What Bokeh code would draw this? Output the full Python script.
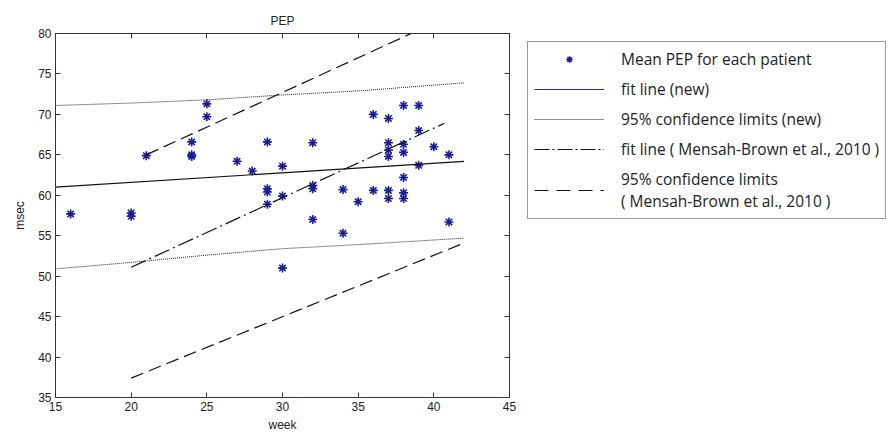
from bokeh.plotting import figure
from bokeh.models import Legend, LegendItem, LinearAxis, Range1d, FixedTicker
from bokeh.layouts import row
from bokeh.embed import file_html
from bokeh.resources import INLINE

# Mean PEP per patient
weeks = [16, 20, 20, 21, 24, 24, 24, 25, 25, 27, 28, 29, 29, 29, 29, 30, 30, 30,
         32, 32, 32, 32, 34, 34, 35, 36, 36, 37, 37, 37, 37, 37, 37,
         38, 38, 38, 38, 38, 38, 39, 39, 39, 40, 41, 41]
pep = [57.7, 57.4, 57.8, 64.9, 66.6, 65.0, 64.8, 71.3, 69.7, 64.2, 63.0, 66.6, 60.8, 60.4, 58.9, 63.6, 59.9, 51.0,
       66.5, 61.2, 60.8, 57.0, 60.7, 55.3, 59.2, 70.0, 60.6, 69.5, 66.5, 65.6, 64.8, 60.6, 59.6,
       71.1, 66.3, 65.3, 62.2, 60.3, 59.6, 71.1, 68.0, 63.7, 66.0, 65.0, 56.7]

# fit line (new)
fit_new_weeks = [15, 42]
fit_new = [61.0, 64.2]
# 95% confidence limits (new)
ci_new_weeks = [15, 20, 25, 30, 35, 42]
ci_new_upper = [71.1, 71.4, 71.8, 72.4, 72.9, 73.9]
ci_new_lower = [50.9, 51.7, 52.6, 53.4, 53.9, 54.7]
# fit line (Mensah-Brown et al., 2010)
mb_fit_weeks = [20, 40.7]
mb_fit = [51.1, 68.9]
# 95% confidence limits (Mensah-Brown et al., 2010)
mb_upper_weeks = [21, 38.5]
mb_upper = [65.0, 80.0]
mb_lower_weeks = [20, 42]
mb_lower = [37.4, 54.1]

x_ticks = [15, 20, 25, 30, 35, 40, 45]
y_ticks = [35, 40, 45, 50, 55, 60, 65, 70, 75, 80]

legend_labels = [
    "Mean PEP for each patient",
    "fit line (new)",
    "95% confidence limits (new)",
    "fit line ( Mensah-Brown et al., 2010 )",
    "95% confidence limits\n( Mensah-Brown et al., 2010 )",
]

MARK_COLOR = "#1c1c96"
DOT = "1 1"
DASHDOT = "16 4 2 4"
DASH = "13 6"

p = figure(frame_width=454, frame_height=364, output_backend="svg", toolbar_location=None,
           x_range=Range1d(15, 45), y_range=Range1d(35, 80),
           min_border_left=55, min_border_top=33, min_border_bottom=39,
           min_border_right=10, title="PEP")
p.title.align = "center"
p.title.text_font = "Liberation Sans"
p.title.text_font_size = "12px"
p.title.text_font_style = "normal"
p.title.text_color = "#222222"
p.title.offset = 0
p.title.standoff = 12
p.grid.visible = False
p.outline_line_color = "#333333"
p.outline_line_width = 1

for ax in (p.xaxis[0], p.yaxis[0]):
    ax.major_tick_in = 5
    ax.major_tick_out = 0
    ax.minor_tick_line_color = None
    ax.major_label_text_font = "Liberation Sans"
    ax.major_label_text_font_size = "12px"
    ax.major_label_text_color = "#222222"
    ax.axis_label_text_font = "Liberation Sans"
    ax.axis_label_text_font_size = "12px"
    ax.axis_label_text_font_style = "normal"
    ax.axis_label_text_color = "#222222"
    ax.axis_line_color = "#333333"
    ax.major_tick_line_color = "#333333"
p.xaxis[0].ticker = FixedTicker(ticks=x_ticks)
p.yaxis[0].ticker = FixedTicker(ticks=y_ticks)
p.xaxis[0].axis_label = "week"
p.yaxis[0].axis_label = "msec"
p.xaxis[0].axis_label_standoff = 4
p.yaxis[0].axis_label_standoff = 8
p.xaxis[0].major_label_standoff = 4
p.yaxis[0].major_label_standoff = 4

for loc, ticks in (("right", y_ticks), ("above", x_ticks)):
    ax = LinearAxis(ticker=FixedTicker(ticks=ticks),
                    major_label_overrides={t: "" for t in ticks},
                    major_tick_in=5, major_tick_out=0, minor_tick_line_color=None,
                    axis_line_color=None, major_tick_line_color="#333333",
                    major_label_standoff=0)
    p.add_layout(ax, loc)

p.scatter(weeks, pep, marker="asterisk", size=9, line_color=MARK_COLOR, line_width=1.6)
p.line(fit_new_weeks, fit_new, line_color="#111111", line_width=1.2)
p.line(ci_new_weeks, ci_new_upper, line_color="#222222", line_width=1, line_dash=DOT)
p.line(ci_new_weeks, ci_new_lower, line_color="#222222", line_width=1, line_dash=DOT)
p.line(mb_fit_weeks, mb_fit, line_color="#111111", line_width=1.2, line_dash=DASHDOT)
p.line(mb_upper_weeks, mb_upper, line_color="#111111", line_width=1.2, line_dash=DASH)
p.line(mb_lower_weeks, mb_lower, line_color="#111111", line_width=1.2, line_dash=DASH)

# legend panel (separate figure so that the legend is not clipped by the plot frame)
LW = 889 - (55 + 454 + 10)
leg = figure(width=LW, height=436, output_backend="svg", toolbar_location=None,
             x_range=Range1d(0, 1), y_range=Range1d(0, 1),
             x_axis_location=None, y_axis_location=None,
             min_border=0, outline_line_color=None)
leg.grid.visible = False
# legend sample glyphs, drawn outside the visible range
ox, oy = [-5, -4], [-5, -5]
s_pts = leg.scatter(ox[:1], oy[:1], marker="asterisk", size=9, line_color=MARK_COLOR, line_width=1.6)
s_fit = leg.line(ox, oy, line_color="#2a2a80", line_width=1.2)
s_ci = leg.line(ox, oy, line_color="#222222", line_width=1, line_dash=DOT)
s_mbf = leg.line(ox, oy, line_color="#111111", line_width=1.2, line_dash="15 3 2 3")
s_mb = leg.line(ox, oy, line_color="#111111", line_width=1.2, line_dash="14 8")

items = [LegendItem(label=lab, renderers=[r])
         for lab, r in zip(legend_labels, [s_pts, s_fit, s_ci, s_mbf, s_mb])]
# the legend figure's frame is aligned with the plot frame (page y 33..397)
legend = Legend(items=items, location=(8, 178), glyph_width=70, glyph_height=16,
                label_standoff=17, label_height=16, spacing=8, padding=6, margin=0,
                label_text_font="Open Sans", label_text_font_size="15.5px",
                label_text_line_height=1.5,
                label_text_color="#222222", border_line_color="#333333",
                border_line_width=1, background_fill_alpha=1.0)
leg.add_layout(legend, "center")

open("out.html", "w").write(file_html(row(p, leg), INLINE))
